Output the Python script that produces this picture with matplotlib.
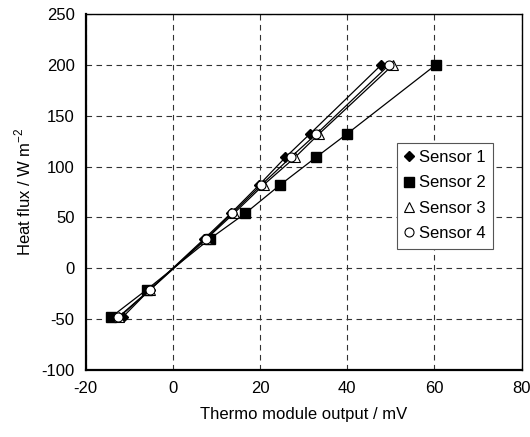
import matplotlib
matplotlib.use('Agg')
import matplotlib.pyplot as plt

plt.rcParams['font.family'] = ['Liberation Sans', 'DejaVu Sans']
plt.rcParams['axes.unicode_minus'] = False

heat_flux = [200, 132, 109, 82, 54, 29, -21, -48]
sensor1 = [47.8, 31.4, 25.8, 19.8, 13.3, 7.2, -5.3, -11.5]
sensor2 = [60.3, 39.9, 32.8, 24.6, 16.6, 8.5, -6.0, -14.2]
sensor3 = [50.5, 33.5, 28.0, 20.8, 14.0, 7.7, -5.2, -12.3]
sensor4 = [49.6, 32.9, 27.0, 20.3, 13.6, 7.5, -5.3, -12.5]

fig = plt.figure(figsize=(5.3, 4.37), dpi=100)
ax = fig.add_axes([0.1617, 0.1533, 0.8226, 0.8147])

# open markers drawn last so they sit on top
ax.plot(sensor2, heat_flux, color='black', lw=0.9, marker='s', ms=7,
        mfc='black', mec='black', label='Sensor 2', zorder=3)
ax.plot(sensor1, heat_flux, color='black', lw=0.9, marker='D', ms=5.5,
        mfc='black', mec='black', label='Sensor 1', zorder=4)
ax.plot(sensor3, heat_flux, color='black', lw=0.9, marker='^', ms=7.5,
        mfc='white', mec='black', mew=0.8, label='Sensor 3', zorder=5)
ax.plot(sensor4, heat_flux, color='black', lw=0.9, marker='o', ms=6.5,
        mfc='white', mec='black', mew=0.8, label='Sensor 4', zorder=6)

ax.set_xlim(-20, 80)
ax.set_ylim(-100, 250)
ax.set_xticks(range(-20, 81, 20))
ax.set_yticks(range(-100, 251, 50))
ax.tick_params(length=0, labelsize=12, pad=8)
ax.grid(True, ls=(0, (5, 4)), color='#333333', lw=0.8)
ax.set_axisbelow(True)
for s in ax.spines.values():
    s.set_color('black')
    s.set_linewidth(1.0)
ax.spines['left'].set_linewidth(1.6)
ax.spines['bottom'].set_linewidth(1.6)

ax.set_xlabel('Thermo module output / mV', fontsize=12, labelpad=8)
ax.set_ylabel('Heat flux / W m$^{\\mathregular{-2}}$', fontsize=12, labelpad=6)

h, l = ax.get_legend_handles_labels()
order = [1, 0, 2, 3]
leg = ax.legend([h[i] for i in order], [l[i] for i in order],
                loc='upper left', bbox_to_anchor=(0.694, 0.662), fontsize=12,
                frameon=True, fancybox=False, edgecolor='#555555',
                handlelength=0.6, handletextpad=0.3, borderpad=0.45,
                labelspacing=0.62, framealpha=1)
leg.get_frame().set_linewidth(0.8)
for lh in leg.legend_handles:
    lh.set_linestyle('none')

fig.savefig('out.png', dpi=100)
